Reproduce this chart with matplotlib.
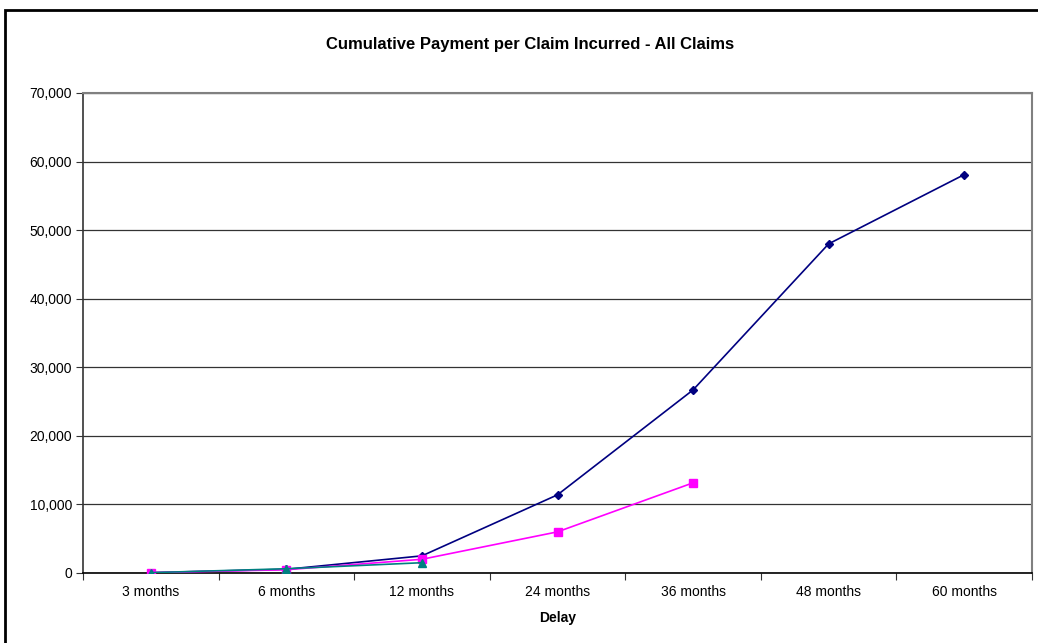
import matplotlib.pyplot as plt
from matplotlib.patches import Rectangle
from matplotlib.ticker import FuncFormatter

# ------------------------------------------------------------
# DATA
# ------------------------------------------------------------
delays = ['3 months', '6 months', '12 months', '24 months',
          '36 months', '48 months', '60 months']

navy_vals = [50, 540, 2500, 11400, 26700, 48000, 58100]
pink_vals = [50, 480, 2000, 6000, 13150]
teal_vals = [50, 620, 1500]

plt.rcParams['font.family'] = ['Liberation Sans', 'DejaVu Sans']

fig = plt.figure(figsize=(10.38, 6.43), dpi=100)
ax = fig.add_axes([83 / 1038, 1 - 573 / 643, 949 / 1038, 480 / 643])

x = list(range(len(delays)))
ax.plot(x[:len(navy_vals)], navy_vals, color='#000080', marker='D',
        markersize=4.5, linewidth=1.2, zorder=3)
ax.plot(x[:len(pink_vals)], pink_vals, color='#FF00FF', marker='s',
        markersize=5.5, linewidth=1.2, zorder=4)
ax.plot(x[:len(teal_vals)], teal_vals, color='#008080', marker='^',
        markersize=6, linewidth=1.2, zorder=5)

ax.set_xlim(-0.5, len(delays) - 0.5)
ax.set_ylim(0, 70000)
ax.set_yticks(range(0, 70001, 10000))
ax.yaxis.set_major_formatter(FuncFormatter(lambda v, p: f'{int(v):,}'))
ax.grid(axis='y', color='#333333', linewidth=0.9)
ax.set_axisbelow(True)

# category labels centered, tick marks on boundaries
ax.set_xticks([i - 0.5 for i in range(len(delays) + 1)])
ax.set_xticklabels([])
ax.set_xticks(x, minor=True)
ax.set_xticklabels(delays, minor=True, fontsize=10)
ax.tick_params(axis='x', which='minor', length=0, pad=9)
ax.tick_params(axis='x', which='major', length=5, direction='out', color='#333333')
ax.tick_params(axis='y', length=5, direction='out', labelsize=10, pad=3, color='#333333')

ax.spines['left'].set_color('#333333')
ax.spines['left'].set_linewidth(1.2)
ax.spines['bottom'].set_color('black')
ax.spines['bottom'].set_linewidth(1.2)
ax.spines['top'].set_color('#808080')
ax.spines['top'].set_linewidth(1.5)
ax.spines['right'].set_color('#808080')
ax.spines['right'].set_linewidth(1.5)

ax.set_xlabel('Delay', fontsize=10, fontweight='bold', labelpad=8)
fig.text(530 / 1038, 1 - 44 / 643, 'Cumulative Payment per Claim Incurred - All Claims',
         ha='center', va='center', fontsize=12, fontweight='bold')

# chart border
fig.patches.append(Rectangle((5 / 1038, -0.1), 1.2, 1 - 10 / 643 + 0.1,
                             transform=fig.transFigure, fill=False,
                             edgecolor='black', linewidth=2))

fig.savefig('out.png', dpi=100)
